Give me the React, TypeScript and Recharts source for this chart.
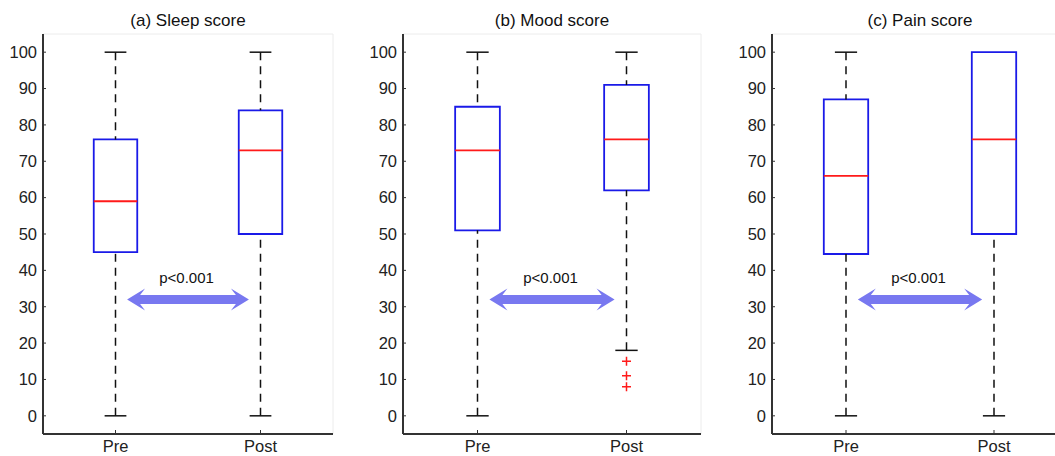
import { ComposedChart, XAxis, YAxis, ReferenceArea, ReferenceLine, ReferenceDot, Scatter } from 'recharts';

const groups = ['Pre', 'Post'];
const titles = ['(a) Sleep score', '(b) Mood score', '(c) Pain score'];

// whisker low, q1, median, q3, whisker high  (Pre, Post)
const sleepStats = [[0, 45, 59, 76, 100], [0, 50, 73, 84, 100]];
const moodStats = [[0, 51, 73, 85, 100], [18, 62, 76, 91, 100]];
const painStats = [[0, 44.5, 66, 87, 100], [0, 50, 76, 100, 100]];

// outliers of the Post group
const sleepOutliers: number[] = [];
const moodOutliers = [15, 11, 8];
const painOutliers: number[] = [];

const yTicks = [0, 10, 20, 30, 40, 50, 60, 70, 80, 90, 100];
const pText = 'p<0.001';
const arrowFrom = 1.08;
const arrowTo = 1.92;
const arrowAt = 32;

const BOX = '#1a1ae8';
const MED = '#ff1a1a';

const DoubleArrow = (props: any) => {
    const { x1, y1, x2 } = props;
    const y = y1;
    const h = 4.5, H = 11, L = 18, b = 5;
    const d = `M${x1},${y} L${x1 + L},${y - H} L${x1 + L - b},${y - h} L${x2 - L + b},${y - h} L${x2 - L},${y - H} L${x2},${y} L${x2 - L},${y + H} L${x2 - L + b},${y + h} L${x1 + L - b},${y + h} L${x1 + L},${y + H} Z`;
    return <path d={d} fill="#7878f0" />;
};

const Plus = (props: any) => {
    const { cx, cy } = props;
    return <path d={`M${cx - 4.5},${cy}h9M${cx},${cy - 4.5}v9`} stroke={MED} strokeWidth={1.5} fill="none" />;
};

type PanelProps = {
    title: string,
    stats: number[][],
    outliers: number[],
    axisX: number,
    plotWidth: number
}

function BoxPanel({ title, stats, outliers, axisX, plotWidth }: PanelProps) {
    const yW = 45;
    const pts = outliers.map(v => ({ x: 2, y: v }));
    return (
        <div style={{ position: 'absolute', left: axisX - yW, top: 0 }}>
            <div style={{ position: 'absolute', left: yW, width: plotWidth, top: 11, textAlign: 'center', fontSize: 17, color: '#111', whiteSpace: 'nowrap' }}>
                {title}
            </div>
            <ComposedChart width={yW + plotWidth + 1} height={456} margin={{ top: 34, right: 1, bottom: 0, left: 0 }}>
                <ReferenceArea x1={0.5} x2={2.5} y1={-5} y2={105} fill="none" stroke="#ececec" />
                <XAxis type="number" dataKey="x" domain={[0.5, 2.5]} ticks={[1, 2]} allowDataOverflow
                    tickFormatter={(v: number) => groups[v - 1]} height={22}
                    axisLine={{ stroke: '#333', strokeWidth: 2 }} tickLine={{ stroke: '#333' }}
                    tickSize={-4} tickMargin={10} tick={{ fill: '#222', fontSize: 16.5 }} />
                <YAxis type="number" dataKey="y" domain={[-5, 105]} ticks={yTicks} allowDataOverflow width={yW}
                    axisLine={{ stroke: '#333', strokeWidth: 2 }} tickLine={{ stroke: '#333' }}
                    tickSize={-3} tickMargin={9} tick={{ fill: '#222', fontSize: 16.5 }} />
                {stats.map((s, i) => {
                    const p = i + 1;
                    const [lo, q1, med, q3, hi] = s;
                    return [
                        q3 < hi && <ReferenceLine key={`wu${i}`} segment={[{ x: p, y: hi }, { x: p, y: q3 }]} stroke="#111" strokeWidth={1.5} strokeDasharray="8 6" />,
                        q3 < hi && <ReferenceLine key={`cu${i}`} segment={[{ x: p - 0.075, y: hi }, { x: p + 0.075, y: hi }]} stroke="#111" strokeWidth={1.5} />,
                        lo < q1 && <ReferenceLine key={`wl${i}`} segment={[{ x: p, y: lo }, { x: p, y: q1 }]} stroke="#111" strokeWidth={1.5} strokeDasharray="8 6" />,
                        lo < q1 && <ReferenceLine key={`cl${i}`} segment={[{ x: p - 0.075, y: lo }, { x: p + 0.075, y: lo }]} stroke="#111" strokeWidth={1.5} />,
                        <ReferenceArea key={`b${i}`} x1={p - 0.15} x2={p + 0.15} y1={q1} y2={q3} fill="none" stroke={BOX} strokeWidth={1.8} ifOverflow="visible" />,
                        <ReferenceLine key={`m${i}`} segment={[{ x: p - 0.15, y: med }, { x: p + 0.15, y: med }]} stroke={MED} strokeWidth={1.8} />,
                    ];
                })}
                <ReferenceLine segment={[{ x: arrowFrom, y: arrowAt }, { x: arrowTo, y: arrowAt }]} shape={DoubleArrow} />
                <ReferenceDot x={1.49} y={38} r={0} fill="none" stroke="none"
                    label={{ value: pText, position: 'center', fontSize: 15, fill: '#111' }} />
                <Scatter data={pts} dataKey="y" shape={Plus} isAnimationActive={false} />
            </ComposedChart>
        </div>
    );
}

export default function App() {
    return (
        <div style={{ position: 'absolute', left: 0, top: 0, width: 1055, height: 456, overflow: 'hidden', background: '#fff', fontFamily: '"Liberation Sans", Arial, sans-serif' }}>
            <BoxPanel title={titles[0]} stats={sleepStats} outliers={sleepOutliers} axisX={43} plotWidth={290} />
            <BoxPanel title={titles[1]} stats={moodStats} outliers={moodOutliers} axisX={403} plotWidth={298} />
            <BoxPanel title={titles[2]} stats={painStats} outliers={painOutliers} axisX={772} plotWidth={296} />
        </div>
    );
}
